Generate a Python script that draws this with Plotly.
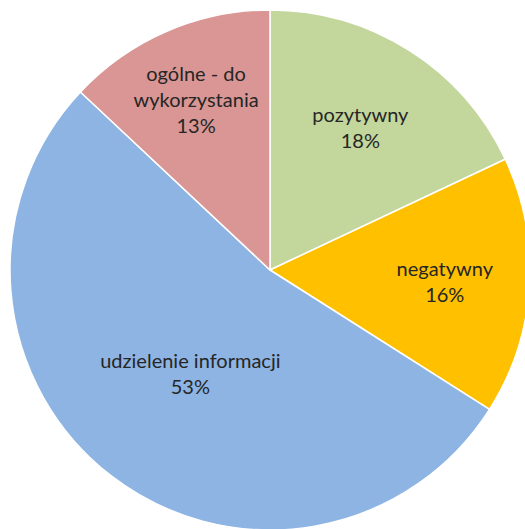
import plotly.graph_objects as go

labels = ["pozytywny", "negatywny", "udzielenie informacji", "ogólne - do wykorzystania"]
display_labels = ["pozytywny", "negatywny", "udzielenie informacji", "ogólne - do<br>wykorzystania"]
values = [18, 16, 53, 13]
colors = ["#C3D69B", "#FFC000", "#8EB4E3", "#D99694"]

fig = go.Figure(go.Pie(
    labels=labels,
    values=values,
    text=display_labels,
    texttemplate="%{text}<br>%{percent:.0%}",
    textposition="inside",
    insidetextorientation="horizontal",
    sort=False,
    direction="clockwise",
    rotation=0,
    marker=dict(colors=colors, line=dict(color="white", width=1.5)),
    textfont=dict(family="Lato, Open Sans, sans-serif", size=20, color="#262626"),
    showlegend=False,
    hoverinfo="label+percent",
))

fig.update_layout(
    width=560, height=560,
    margin=dict(l=10, r=30, t=10, b=30),
    paper_bgcolor="white",
    plot_bgcolor="white",
)

fig.write_html(
    "out.html",
    config={"displayModeBar": False},
    post_script="document.body.style.margin='0';document.body.style.overflow='hidden';",
)
